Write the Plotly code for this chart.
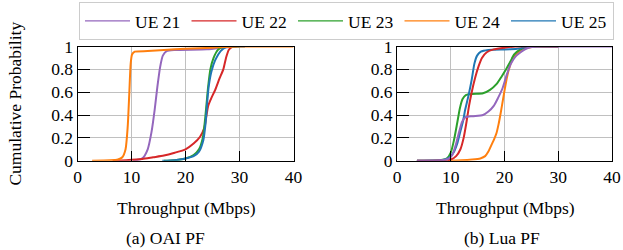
import plotly.graph_objects as go

# ---------------- data (CDF points: throughput in Mbps, cumulative probability) ----------------
names = ["UE 21", "UE 22", "UE 23", "UE 24", "UE 25"]
colors = ["#9467bd", "#d62728", "#2ca02c", "#ff7f0e", "#1f77b4"]

# (a) OAI PF
oai_ue21_x = [10.3, 12, 13, 13.7, 14.3, 14.8, 15.3, 15.8, 16.5, 18, 24, 27, 29]
oai_ue21_y = [0, 0.02, 0.1, 0.25, 0.45, 0.65, 0.82, 0.92, 0.96, 0.97, 0.975, 0.99, 1]
oai_ue22_x = [6.5, 9, 12, 14, 16, 18, 20, 21.5, 22.7, 23.5, 23.9, 24.2, 24.8, 25.5, 26.3, 27, 27.5, 28, 28.6, 29.5]
oai_ue22_y = [0, 0.005, 0.015, 0.03, 0.045, 0.07, 0.1, 0.15, 0.21, 0.29, 0.4, 0.48, 0.55, 0.62, 0.72, 0.8, 0.9, 0.97, 0.995, 1]
oai_ue23_x = [16, 18, 20, 21.5, 22.5, 23.2, 23.6, 23.9, 24.2, 24.6, 25.2, 26, 27, 30]
oai_ue23_y = [0, 0.005, 0.02, 0.05, 0.1, 0.2, 0.35, 0.5, 0.65, 0.8, 0.9, 0.97, 1, 1]
oai_ue24_x = [2.7, 6, 7.5, 8.3, 8.9, 9.3, 9.6, 9.85, 10.1, 10.6, 13, 16, 20, 25, 30, 40]
oai_ue24_y = [0, 0.003, 0.01, 0.03, 0.1, 0.3, 0.6, 0.85, 0.93, 0.955, 0.96, 0.97, 0.98, 0.99, 1, 1]
oai_ue25_x = [15.7, 18, 20, 21.5, 22.5, 23.3, 23.7, 24, 24.3, 24.8, 25.5, 26.5, 27.5, 29, 31]
oai_ue25_y = [0, 0.005, 0.02, 0.04, 0.08, 0.18, 0.32, 0.5, 0.65, 0.78, 0.88, 0.96, 0.995, 1, 1]

# (b) Lua PF
lua_ue21_x = [3.7, 8, 9.5, 10.3, 11, 11.6, 12.1, 12.7, 14, 16, 17, 18, 18.8, 19.6, 20.4, 21.2, 22, 23, 24, 25, 27, 40]
lua_ue21_y = [0, 0.003, 0.015, 0.05, 0.15, 0.26, 0.34, 0.38, 0.39, 0.4, 0.43, 0.48, 0.55, 0.63, 0.75, 0.85, 0.91, 0.95, 0.98, 0.995, 1, 1]
lua_ue22_x = [3.7, 8, 10, 11, 11.8, 12.4, 12.9, 13.4, 13.9, 14.5, 15.2, 15.8, 16.7, 18, 20, 22, 30]
lua_ue22_y = [0, 0.002, 0.01, 0.04, 0.1, 0.2, 0.33, 0.48, 0.6, 0.72, 0.83, 0.9, 0.95, 0.975, 0.99, 1, 1]
lua_ue23_x = [3.7, 8, 9.3, 10, 10.6, 11.2, 11.7, 12.2, 12.8, 14, 16, 17.3, 18.5, 19.5, 20.3, 21, 21.8, 22.8, 24, 26, 30]
lua_ue23_y = [0, 0.003, 0.02, 0.07, 0.18, 0.33, 0.46, 0.54, 0.575, 0.585, 0.59, 0.62, 0.67, 0.74, 0.8, 0.86, 0.93, 0.97, 0.99, 1, 1]
lua_ue24_x = [9.5, 12, 14, 15.5, 16.4, 17, 17.5, 18, 18.5, 18.9, 19.3, 19.7, 20.1, 20.5, 21, 21.6, 22.3, 23.2, 24.5, 26, 30]
lua_ue24_y = [0, 0.003, 0.01, 0.02, 0.04, 0.08, 0.13, 0.18, 0.24, 0.32, 0.42, 0.53, 0.64, 0.74, 0.83, 0.9, 0.94, 0.97, 0.99, 1, 1]
lua_ue25_x = [3.7, 8, 9.5, 10.5, 11.2, 11.7, 12.3, 12.7, 13.3, 13.9, 14.4, 14.9, 15.6, 17, 21, 23, 24.5, 30]
lua_ue25_y = [0, 0.003, 0.02, 0.07, 0.15, 0.24, 0.35, 0.45, 0.57, 0.71, 0.85, 0.92, 0.955, 0.97, 0.975, 0.985, 1, 1]

x_ticks = [0, 10, 20, 30, 40]
y_ticks = [0, 0.2, 0.4, 0.6, 0.8, 1]
y_tick_labels = ["0", "0.2", "0.4", "0.6", "0.8", "1"]

oai = {"UE 21": (oai_ue21_x, oai_ue21_y), "UE 22": (oai_ue22_x, oai_ue22_y),
       "UE 23": (oai_ue23_x, oai_ue23_y), "UE 24": (oai_ue24_x, oai_ue24_y),
       "UE 25": (oai_ue25_x, oai_ue25_y)}
lua = {"UE 21": (lua_ue21_x, lua_ue21_y), "UE 22": (lua_ue22_x, lua_ue22_y),
       "UE 23": (lua_ue23_x, lua_ue23_y), "UE 24": (lua_ue24_x, lua_ue24_y),
       "UE 25": (lua_ue25_x, lua_ue25_y)}

oai_order = ["UE 21", "UE 22", "UE 23", "UE 25", "UE 24"]
lua_order = ["UE 24", "UE 23", "UE 25", "UE 22", "UE 21"]

W, H = 623, 250
FONT = "Liberation Serif, Times New Roman, Times, serif"
FS = 17.5
color_of = dict(zip(names, colors))

fig = go.Figure()
for n in oai_order:
    x, y = oai[n]
    fig.add_trace(go.Scatter(x=x, y=y, mode="lines", line=dict(color=color_of[n], width=2, shape="spline", smoothing=0.6),
                             showlegend=False, xaxis="x", yaxis="y", hoverinfo="skip"))
for n in lua_order:
    x, y = lua[n]
    fig.add_trace(go.Scatter(x=x, y=y, mode="lines", line=dict(color=color_of[n], width=2, shape="spline", smoothing=0.6),
                             showlegend=False, xaxis="x2", yaxis="y2", hoverinfo="skip"))
# legend entries
for n, c in zip(names, colors):
    fig.add_trace(go.Scatter(x=[None], y=[None], mode="lines", name=n, line=dict(color=c, width=1.2),
                             showlegend=True, xaxis="x", yaxis="y"))

def px_x(p):
    return p / W

def px_y(p):
    return 1 - p / H

axis_common = dict(range=[0, 40], tickvals=x_ticks, ticks="inside", ticklen=10, tickcolor="black",
                   showline=True, linecolor="black", linewidth=1, mirror=True, automargin=False,
                   showgrid=True, gridcolor="#c0c0c0", gridwidth=1, zeroline=False,
                   tickfont=dict(family=FONT, size=FS, color="black"))
yaxis_common = dict(range=[0, 1], tickvals=y_ticks, ticktext=y_tick_labels, ticks="inside", ticklen=12,
                    tickcolor="black", showline=True, linecolor="black", linewidth=1, mirror=True,
                    automargin=False,
                    showgrid=True, gridcolor="#c0c0c0", gridwidth=1, zeroline=False,
                    tickfont=dict(family=FONT, size=FS, color="black"))

fig.update_layout(
    template="simple_white",
    width=W, height=H, autosize=False,
    margin=dict(l=0, r=0, t=0, b=0, pad=0, autoexpand=False),
    paper_bgcolor="white", plot_bgcolor="white",
    font=dict(family=FONT, size=FS, color="black"),
    xaxis=dict(domain=[px_x(77.5), px_x(293.5)], anchor="y", **axis_common),
    yaxis=dict(domain=[px_y(160.7), px_y(46.5)], anchor="x", **yaxis_common),
    xaxis2=dict(domain=[px_x(397), px_x(612)], anchor="y2", **axis_common),
    yaxis2=dict(domain=[px_y(160.7), px_y(46.5)], anchor="x2", **yaxis_common),
    legend=dict(orientation="h", x=px_x(79), y=px_y(2), xanchor="left", yanchor="top",
                bordercolor="#cccccc", borderwidth=1, bgcolor="white",
                font=dict(family=FONT, size=FS, color="black"),
                itemwidth=45, entrywidth=46.5, tracegroupgap=0),
    annotations=[
        dict(text="Cumulative Probability", x=px_x(15), y=px_y(103.6), xref="paper", yref="paper",
             textangle=-90, showarrow=False, xanchor="center", yanchor="middle",
             font=dict(family=FONT, size=FS, color="black")),
        dict(text="Throughput (Mbps)", x=px_x(186.5), y=px_y(208), xref="paper", yref="paper",
             showarrow=False, xanchor="center", yanchor="middle",
             font=dict(family=FONT, size=FS, color="black")),
        dict(text="Throughput (Mbps)", x=px_x(505), y=px_y(208), xref="paper", yref="paper",
             showarrow=False, xanchor="center", yanchor="middle",
             font=dict(family=FONT, size=FS, color="black")),
        dict(text="(a) OAI PF", x=px_x(165.5), y=px_y(238), xref="paper", yref="paper",
             showarrow=False, xanchor="center", yanchor="middle",
             font=dict(family=FONT, size=FS, color="black")),
        dict(text="(b) Lua PF", x=px_x(502), y=px_y(238), xref="paper", yref="paper",
             showarrow=False, xanchor="center", yanchor="middle",
             font=dict(family=FONT, size=FS, color="black")),
    ],
)

fig.write_html("out.html", config={"displayModeBar": False},
               post_script="document.body.style.margin='0px';document.body.style.overflow='hidden';")
